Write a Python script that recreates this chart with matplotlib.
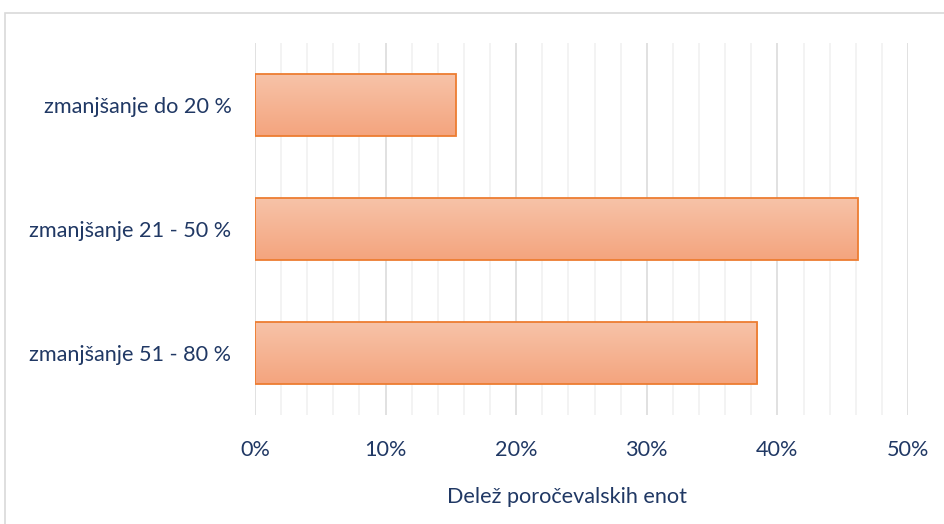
import numpy as np
import matplotlib
matplotlib.use("Agg")
import matplotlib.pyplot as plt
from matplotlib.patches import Rectangle
from matplotlib.ticker import MultipleLocator, PercentFormatter

# ── data ──────────────────────────────────────────────────────────────────────
categories = ["zmanjšanje do 20 %", "zmanjšanje 21 - 50 %", "zmanjšanje 51 - 80 %"]
shares = [0.1538, 0.4615, 0.3846]
xlabel = "Delež poročevalskih enot"

TEXT = "#203864"
EDGE = "#ED7D31"
FS = 15.6

plt.rcParams["font.family"] = ["Lato", "DejaVu Sans"]

fig = plt.figure(figsize=(9.44, 5.24), dpi=100)
ax = fig.add_axes([255 / 944, 1 - 415 / 524, 653 / 944, 372 / 524])

# outer chart border
fig.patches.append(Rectangle((5 / 944, -0.1), 1.1, 1 - 13 / 524 + 0.1,
                             transform=fig.transFigure, fill=False,
                             edgecolor="#D9D9D9", linewidth=1.2))

ypos = np.arange(len(categories))
height = 0.5
grad = np.linspace(0, 1, 100).reshape(-1, 1)
cmap = matplotlib.colors.LinearSegmentedColormap.from_list(
    "g", ["#F7C3A8", "#F4A47E"])
for y, v in zip(ypos, shares):
    ax.imshow(grad, extent=(0, v, y + height / 2, y - height / 2),
              cmap=cmap, aspect="auto", zorder=3, interpolation="bilinear")
    ax.add_patch(Rectangle((0, y - height / 2), v, height, fill=False,
                           edgecolor=EDGE, linewidth=1.3, zorder=4))

ax.set_xlim(0, 0.5)
ax.set_ylim(len(categories) - 0.5, -0.5)
ax.xaxis.set_major_locator(MultipleLocator(0.1))
ax.xaxis.set_minor_locator(MultipleLocator(0.02))
ax.xaxis.set_major_formatter(PercentFormatter(1.0, decimals=0))
ax.set_yticks(ypos)
ax.set_yticklabels(categories)

ax.grid(axis="x", which="major", color="#D9D9D9", linewidth=1.1, zorder=0)
ax.grid(axis="x", which="minor", color="#F0F0F0", linewidth=1.1, zorder=0)
ax.set_axisbelow(True)
for s in ax.spines.values():
    s.set_visible(False)
ax.tick_params(axis="both", which="both", length=0)
ax.tick_params(axis="x", labelsize=FS, labelcolor=TEXT, pad=18)
ax.tick_params(axis="y", labelsize=FS, labelcolor=TEXT, pad=17)
ax.set_xlabel(xlabel, fontsize=FS, color=TEXT, va="center")
ax.xaxis.set_label_coords((567 - 255) / 653, (415 - 497) / 372)

fig.savefig("out.png", dpi=100)
